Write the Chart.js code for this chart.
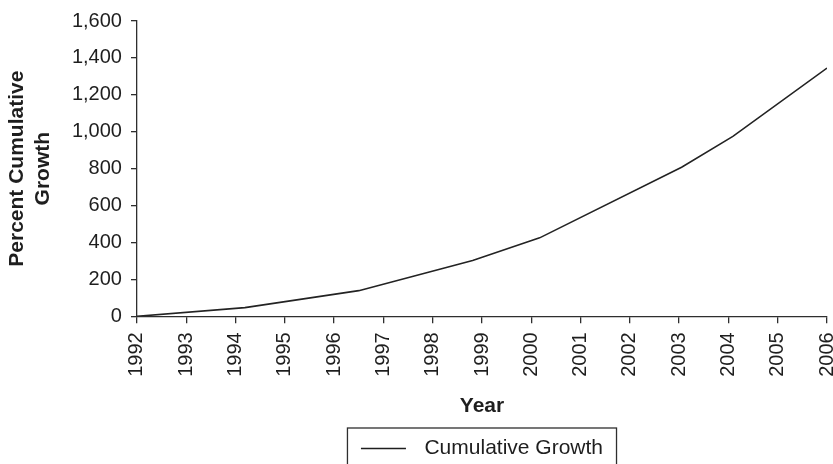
<!DOCTYPE html>
<html>
<head>
<meta charset="utf-8">
<script src="https://cdn.jsdelivr.net/npm/chart.js@4.4.0/dist/chart.umd.min.js"></script>
<style>
html, body { margin: 0; padding: 0; background: #ffffff; }
#wrap { width: 833px; height: 464px; }
</style>
</head>
<body>
<div id="wrap"><canvas id="c" width="833" height="464"></canvas></div>
<script>
// ---- data ----
const years = [1992, 1994.19, 1996.5, 1998.81, 2000.17, 2003.05, 2004.09, 2006];
const growth = [0, 47, 139, 302, 425, 808, 975, 1345];
const xTickYears = [1992, 1993, 1994, 1995, 1996, 1997, 1998, 1999, 2000, 2001, 2002, 2003, 2004, 2005, 2006];
const yTickValues = [0, 200, 400, 600, 800, 1000, 1200, 1400, 1600];
const seriesLabel = 'Cumulative Growth';
const xTitle = 'Year';
const yTitle = ['Percent Cumulative', 'Growth'];

const FONT = "'Liberation Sans', Arial, Helvetica, sans-serif";
const INK = '#1e1e1e';
const AXIS = '#2e2e2e';

const points = years.map((y, i) => ({ x: y, y: growth[i] }));

const LEGEND_BOX = 53;
const LEGEND_FONT = 21;

const legendFrame = {
  id: 'legendFrame',
  afterDraw(chart) {
    const lg = chart.legend;
    if (!lg || !lg.legendHitBoxes || !lg.legendHitBoxes.length) return;
    const hb = lg.legendHitBoxes[0];
    const ctx = chart.ctx;
    const cy = hb.top + hb.height / 2;
    ctx.save();
    // legend line sample
    ctx.strokeStyle = INK;
    ctx.lineWidth = 1.6;
    ctx.beginPath();
    ctx.moveTo(hb.left, cy);
    ctx.lineTo(hb.left + 45, cy);
    ctx.stroke();
    // frame
    ctx.strokeStyle = AXIS;
    ctx.lineWidth = 1.3;
    ctx.strokeRect(hb.left - 13.5, cy - 20.5, hb.width + 27, 60);
    ctx.restore();
  }
};

new Chart(document.getElementById('c'), {
  type: 'line',
  data: {
    datasets: [{
      label: seriesLabel,
      data: points,
      borderColor: '#232323',
      backgroundColor: '#232323',
      borderWidth: 1.6,
      pointRadius: 0,
      tension: 0,
      fill: false
    }]
  },
  options: {
    responsive: false,
    animation: false,
    devicePixelRatio: 1,
    layout: { padding: { top: 9, left: 0, right: 0, bottom: -5 } },
    plugins: {
      tooltip: { enabled: false },
      legend: {
        position: 'bottom',
        fullSize: false,
        labels: {
          boxWidth: LEGEND_BOX,
          font: { family: FONT, size: LEGEND_FONT },
          color: INK,
          padding: 10,
          generateLabels: (chart) => chart.data.datasets.map((ds, i) => ({
            text: ds.label,
            fillStyle: 'rgba(0,0,0,0)',
            strokeStyle: 'rgba(0,0,0,0)',
            lineWidth: 0,
            hidden: false,
            datasetIndex: i,
            fontColor: INK
          }))
        }
      }
    },
    scales: {
      x: {
        type: 'linear',
        min: 1992,
        max: 2006,
        afterBuildTicks: (s) => { s.ticks = xTickYears.map(v => ({ value: v })); },
        afterFit: (s) => { s.paddingRight = 6; },
        grid: { display: true, drawOnChartArea: false, drawTicks: true, tickLength: 7, color: AXIS, lineWidth: 1.3 },
        border: { display: true, color: AXIS, width: 1.3 },
        ticks: {
          autoSkip: false,
          maxRotation: 90,
          minRotation: 90,
          padding: 9,
          color: INK,
          font: { family: FONT, size: 20 },
          callback: (v) => String(v)
        },
        title: {
          display: true,
          text: xTitle,
          color: INK,
          font: { family: FONT, size: 21, weight: 'bold' },
          padding: { top: 8, bottom: 9 }
        }
      },
      y: {
        min: 0,
        max: 1600,
        afterBuildTicks: (s) => { s.ticks = yTickValues.map(v => ({ value: v })); },
        grid: { display: true, drawOnChartArea: false, drawTicks: true, tickLength: 6, color: AXIS, lineWidth: 1.3 },
        border: { display: true, color: AXIS, width: 1.3 },
        ticks: {
          padding: 9,
          color: INK,
          font: { family: FONT, size: 20 },
          callback: (v) => Number(v).toLocaleString('en-US')
        },
        title: {
          display: true,
          text: yTitle,
          color: INK,
          font: { family: FONT, size: 21, weight: 'bold', lineHeight: 1.26 },
          padding: { top: 4, bottom: 6 }
        }
      }
    }
  },
  plugins: [legendFrame]
});
</script>
</body>
</html>
